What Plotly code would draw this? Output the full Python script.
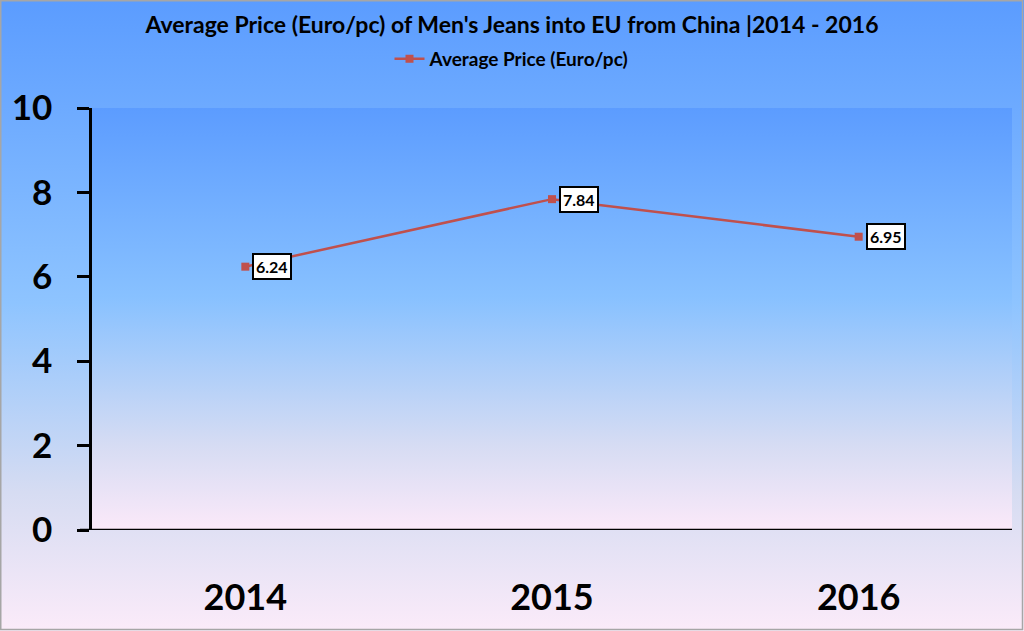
import base64
import plotly.graph_objects as go

years = ["2014", "2015", "2016"]
prices = [6.24, 7.84, 6.95]
label_texts = ["6.24", "7.84", "6.95"]
y_ticks = [0, 2, 4, 6, 8, 10]

W, H = 1024, 631
ML, MR, MT, MB = 92, 12, 108, 101
PW, PH = W - ML - MR, H - MT - MB


def grad_uri(stops):
    st = "".join(f'<stop offset="{o}" stop-color="{c}"/>' for o, c in stops)
    svg = ('<svg xmlns="http://www.w3.org/2000/svg" width="100" height="100" preserveAspectRatio="none">'
           '<defs><linearGradient id="g" x1="0" y1="0" x2="0" y2="1">' + st +
           '</linearGradient></defs><rect width="100" height="100" fill="url(#g)"/></svg>')
    return "data:image/svg+xml;base64," + base64.b64encode(svg.encode()).decode()


paper_grad = grad_uri([(0, "#5b9cff"), (0.48, "#8ec4ff"), (0.78, "#d6dcf2"), (1, "#fbebf9")])
plot_grad = grad_uri([(0, "#5c9cff"), (0.45, "#88c1ff"), (0.8, "#d6dcf3"), (1, "#fbe9f9")])

fig = go.Figure()
fig.add_trace(go.Scatter(
    x=years, y=prices, mode="lines+markers", name="<b>Average Price (Euro/pc)</b>",
    line=dict(color="#c0504d", width=2.5),
    marker=dict(symbol="square", size=8, color="#c0504d"),
))

for i, (yv, t) in enumerate(zip(prices, label_texts)):
    fig.add_annotation(x=i, y=yv, xref="x", yref="y", text=f"<b>{t}</b>", showarrow=False,
                       xanchor="left", yanchor="middle", xshift=7,
                       bgcolor="white", bordercolor="black", borderwidth=2, borderpad=2,
                       font=dict(family="Lato", size=16, color="black"))

fig.add_layout_image(dict(source=paper_grad, xref="paper", yref="paper",
                          x=-ML / PW, y=1 + MT / PH, sizex=W / PW, sizey=H / PH,
                          xanchor="left", yanchor="top", sizing="stretch", layer="below"))
fig.add_layout_image(dict(source=plot_grad, xref="paper", yref="paper",
                          x=0, y=1, sizex=1, sizey=1,
                          xanchor="left", yanchor="top", sizing="stretch", layer="below"))

fig.add_shape(type="rect", xref="paper", yref="paper",
              x0=-(ML - 0.75) / PW, x1=1 + (MR - 1.5) / PW, y0=-(MB - 1.5) / PH, y1=1 + (MT - 0.75) / PH,
              line=dict(color="#a6a6a6", width=1.5), fillcolor="rgba(0,0,0,0)", layer="above")

fig.update_layout(
    width=W, height=H,
    margin=dict(l=ML, r=MR, t=MT, b=MB, pad=0),
    paper_bgcolor="#8ec4ff", plot_bgcolor="rgba(0,0,0,0)",
    title=dict(text="<b>Average Price (Euro/pc) of Men's Jeans into EU from China |2014 - 2016</b>",
               x=0.5, xref="container", xanchor="center", y=1 - 25 / H, yanchor="middle",
               font=dict(family="Lato", size=23, color="black")),
    showlegend=True,
    legend=dict(orientation="h", x=(512 - ML) / PW, xref="paper", xanchor="center",
                y=1 + 49 / PH, yanchor="middle", bgcolor="rgba(0,0,0,0)",
                font=dict(family="Lato", size=19, color="black"), itemwidth=30),
    xaxis=dict(type="category", range=[-0.5, 2.5], showgrid=False, zeroline=False,
               showline=False, ticks="", ticklabelstandoff=43,
               tickfont=dict(family="Lato", size=36, color="black"),
               tickvals=years, ticktext=[f"<b>{y}</b>" for y in years]),
    yaxis=dict(range=[0, 10], showgrid=False, zeroline=False, showline=True,
               linecolor="black", linewidth=2.5, ticks="outside", ticklen=12,
               tickwidth=2.5, tickcolor="black", ticklabelstandoff=18,
               tickvals=y_ticks, ticktext=[f"<b>{v}</b>" for v in y_ticks],
               tickfont=dict(family="Lato", size=35, color="black")),
)

fig.add_shape(type="line", xref="paper", yref="y", x0=-12 / PW, x1=1, y0=0, y1=0,
              line=dict(color="black", width=2.5), layer="above")

fig.write_html("out.html", config={"displayModeBar": False},
               post_script="document.body.style.margin='0';document.body.style.overflow='hidden';")
